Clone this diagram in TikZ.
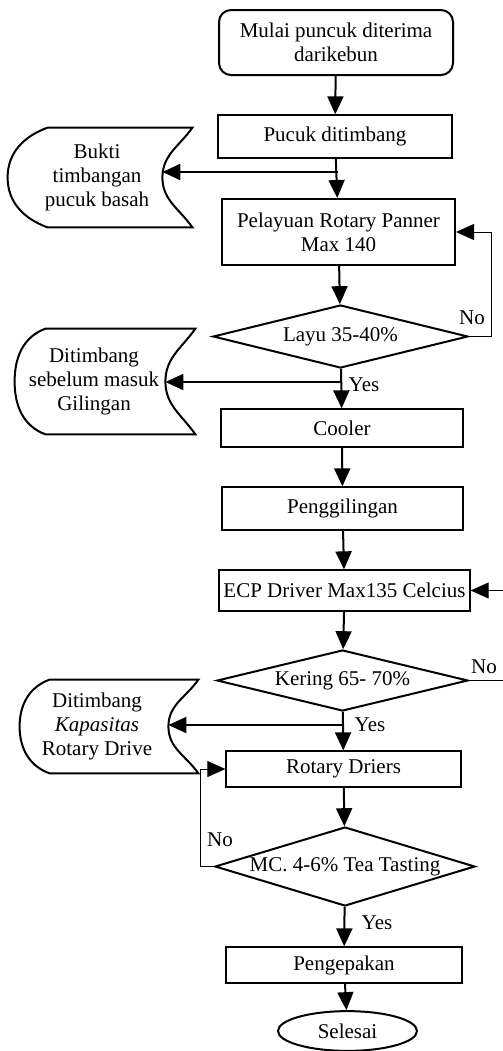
\documentclass[tikz,border=0pt]{standalone}
\usepackage{fontspec}
\setmainfont{Liberation Serif}
\usetikzlibrary{shapes.geometric, arrows.meta}
\tikzset{
  startbox/.style = {shape=rectangle, rounded corners=6pt,
                     draw, line width=1pt, align=center},
  procbox/.style  = {shape=rectangle, draw, line width=0.65pt,
                     align=center, inner sep=2pt},
  thickbox/.style = {procbox, line width=1pt},
  decision/.style = {shape=diamond, draw, line width=1pt, inner sep=0pt},
  docnode/.style  = {align=center, inner sep=0pt},
  endnode/.style  = {shape=ellipse, draw, line width=1pt},
  lbl/.style      = {inner sep=0pt},
  arr/.style      = {line width=1pt, -{Triangle[length=9pt,width=8pt]}},
  back/.style     = {line width=0.5pt, -{Triangle[length=9pt,width=8pt]}}
}
% stored data outline round a docnode: #2 = left bulge, #3 = corner inset
\newcommand{\datashape}[3]{%
  \draw[line width=1pt] ([xshift=#3]#1.north west) -- ([xshift=15pt]#1.north east)
    to[out=-125,in=90] (#1.east) to[out=-90,in=125] ([xshift=15pt]#1.south east)
    -- ([xshift=#3]#1.south west) to[out=160,in=-90] ([xshift=-#2]#1.west)
    to[out=90,in=-160] cycle;}

\begin{document}
\begin{tikzpicture}
  [
  x = 0.5pt, y = -0.5pt,
  every node/.style = {font = \fontsize{10.5}{12}\selectfont}
  ]
  \useasboundingbox (0,0) rectangle (503,1051);

  \node[startbox, minimum width=117pt, minimum height=32.5pt] (mulai) at (336,42.5)
    {Mulai puncuk diterima\\darikebun};
  \node[procbox, minimum width=117pt, minimum height=21.5pt] (timbang) at (335,136.5)
    {Pucuk ditimbang};
  \node[thickbox, minimum width=116.5pt, minimum height=33pt] (layu) at (338.5,232)
    {Pelayuan Rotary Panner\\Max 140};
  \node[decision, minimum width=127.5pt, minimum height=31.5pt,
        label=center:Layu 35-40\%] (cek1) at (340.5,336.5) {};
  \node[procbox, minimum width=121pt, minimum height=19pt] (cooler) at (342,428)
    {Cooler};
  \node[procbox, minimum width=120.5pt, minimum height=21.5pt] (giling) at (342.5,508.5)
    {Penggilingan};
  \node[procbox, minimum width=125.5pt, minimum height=20.5pt] (ecp) at (344.5,590.5)
    {ECP Driver Max135 Celcius};
  \node[decision, minimum width=125.5pt, minimum height=30.5pt,
        label=center:Kering 65- 70\%] (cek2) at (342.5,680.5) {};
  \node[procbox, minimum width=117.5pt, minimum height=18pt] (driers) at (343.5,769)
    {Rotary Driers};
  \node[decision, minimum width=130pt, minimum height=39.5pt,
        label=center:MC. 4-6\% Tea Tasting] (cek3) at (345,866.5) {};
  \node[procbox, minimum width=118pt, minimum height=18pt] (kemas) at (344,965)
    {Pengepakan};
  \node[endnode, minimum width=69.5pt, minimum height=19pt] (selesai) at (347.5,1031)
    {Selesai};

  % catatan timbangan
  \node[docnode, minimum width=65pt, minimum height=49.5pt] (bukti) at (97,177.5)
    {Bukti\\timbangan\\pucuk basah};
  \node[docnode, minimum width=71pt, minimum height=52.5pt] (timbang2) at (94,381.5)
    {Ditimbang\\sebelum masuk\\Gilingan};
  \node[docnode, minimum width=71pt, minimum height=46.5pt] (timbang3) at (97,726.5)
    {Ditimbang\\\textit{Kapasitas}\\Rotary Drive};
  \datashape{bukti}{12pt}{8pt}
  \datashape{timbang2}{4pt}{11.5pt}
  \datashape{timbang3}{3pt}{12pt}

  \node[lbl] (no1) at (472,318) {No};
  \node[lbl] (yes1) at (364,385) {Yes};
  \node[lbl] (no2) at (484,667) {No};
  \node[lbl] (yes2) at (370,725) {Yes};
  \node[lbl] (no3) at (220,840) {No};
  \node[lbl] (yes3) at (377,923) {Yes};

  \coordinate (j1) at (338,172);
  \coordinate (j2) at (341,382);
  \coordinate (j3) at (343,725);

  \draw[arr] (mulai) -- (timbang);
  \draw[arr] (timbang) -- (layu);
  \draw[arr] (j1) -- (bukti.east |- j1);
  \draw[arr] (layu) -- (cek1);
  \draw[arr] (cek1) -- (cooler);
  \draw[arr] (j2) -- (timbang2.east |- j2);
  \draw[arr] (cooler) -- (giling);
  \draw[arr] (giling) -- (ecp);
  \draw[arr] (ecp) -- (cek2);
  \draw[arr] (cek2) -- (driers);
  \draw[arr] (j3) -- (timbang3.east |- j3);
  \draw[arr] (driers) -- (cek3);
  \draw[arr] (cek3) -- (kemas);
  \draw[arr] (kemas) -- (selesai);

  \draw[back] (cek1.east) -- ++(22,0) |- (layu.east);
  \draw[back] (cek2.east) -- ++(42,0) |- (ecp.east);
  \draw[back] (cek3.west) -- ++(-14,0) |- (driers.west);
\end{tikzpicture}
\end{document}
